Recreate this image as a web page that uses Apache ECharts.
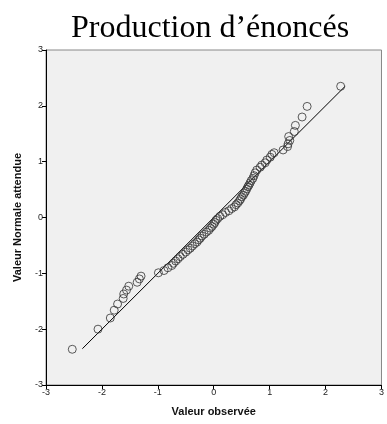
<!DOCTYPE html>
<html>
<head>
<meta charset="utf-8">
<script src="https://cdn.jsdelivr.net/npm/echarts@6/dist/echarts.min.js"></script>
<style>html,body{margin:0;padding:0;background:#fff}#c{width:387px;height:424px}</style>
</head>
<body>
<div id="c"></div>
<script>
var titleText = "Production d\u2019énoncés";
var xName = "Valeur observée";
var yName = "Valeur Normale attendue";
var axisTicks = [-3, -2, -1, 0, 1, 2, 3];
var observed = [
 -2.53,-2.07,-1.85,-1.78,-1.72,-1.62,-1.61,-1.56,-1.52,-1.37,-1.33,-1.30,-0.99,-0.89,-0.82,-0.75,
 -0.72,-0.68,-0.64,-0.60,-0.55,-0.50,-0.46,-0.42,-0.38,-0.34,-0.30,-0.27,-0.24,-0.21,-0.17,-0.13,
 -0.09,-0.06,-0.03,0.00,0.02,0.04,0.07,0.11,0.16,0.21,0.27,0.32,0.37,0.40,0.43,0.46,0.48,0.50,
 0.53,0.55,0.57,0.59,0.61,0.63,0.65,0.67,0.70,0.72,0.74,
 0.77,0.83,0.86,0.92,0.95,1.01,1.04,1.08,1.24,1.32,1.33,1.36,1.34,1.44,1.46,1.58,1.67,2.27
];
var expected = [
 -2.36,-2.00,-1.80,-1.66,-1.55,-1.45,-1.37,-1.30,-1.23,-1.16,-1.10,-1.05,-0.99,-0.95,-0.90,-0.86,
 -0.82,-0.78,-0.74,-0.70,-0.66,-0.62,-0.58,-0.55,-0.51,-0.47,-0.44,-0.40,-0.37,-0.33,-0.30,-0.26,
 -0.23,-0.19,-0.16,-0.12,-0.09,-0.05,-0.02,0.02,0.05,0.09,0.12,0.16,0.19,0.23,0.26,0.30,0.33,0.37,
 0.40,0.44,0.47,0.51,0.55,0.58,0.62,0.66,0.70,0.75,0.80,
 0.85,0.90,0.94,0.98,1.03,1.08,1.13,1.16,1.21,1.27,1.32,1.38,1.45,1.54,1.65,1.80,1.99,2.35
];
var refLineX = [-2.35, 2.35];
var refLineY = [-2.35, 2.35];

var pts = observed.map(function(v, i){ return [v, expected[i]]; });
var linePts = refLineX.map(function(v, i){ return [v, refLineY[i]]; });

var chart = echarts.init(document.getElementById('c'), null, {renderer: 'canvas'});
var axisCommon = {
  type: 'value',
  min: axisTicks[0], max: axisTicks[axisTicks.length - 1], interval: 1,
  axisLine: {show: true, onZero: false, lineStyle: {color: '#000', width: 1}},
  axisTick: {show: true, inside: false, length: 4, lineStyle: {color: '#000'}},
  splitLine: {show: false},
  axisLabel: {color: '#222', fontSize: 9, fontFamily: 'Liberation Sans, Arial, sans-serif', margin: 3},
  nameLocation: 'middle',
  nameTextStyle: {color: '#111', fontSize: 11, fontWeight: 'bold', fontFamily: 'Liberation Sans, Arial, sans-serif'}
};
chart.setOption({
  animation: false,
  backgroundColor: '#fff',
  title: {
    text: titleText, left: 66, top: 8,
    textStyle: {fontFamily: 'Liberation Serif, Times New Roman, serif', fontSize: 32, fontWeight: 'normal', color: '#000'}
  },
  grid: {left: 46, right: 3, top: 50, bottom: 39, show: true, backgroundColor: '#f0f0f0', borderColor: '#888', borderWidth: 1},
  xAxis: Object.assign({}, axisCommon, {name: xName, nameGap: 21}),
  yAxis: Object.assign({}, axisCommon, {name: yName, nameGap: 23}),
  series: [
    {type: 'line', data: linePts, symbol: 'none', lineStyle: {color: '#000', width: 1}, z: 2},
    {type: 'scatter', data: pts, symbol: 'circle', symbolSize: 8,
     itemStyle: {color: 'rgba(0,0,0,0)', borderColor: '#333', borderWidth: 1}, z: 3}
  ]
});
</script>
</body>
</html>
